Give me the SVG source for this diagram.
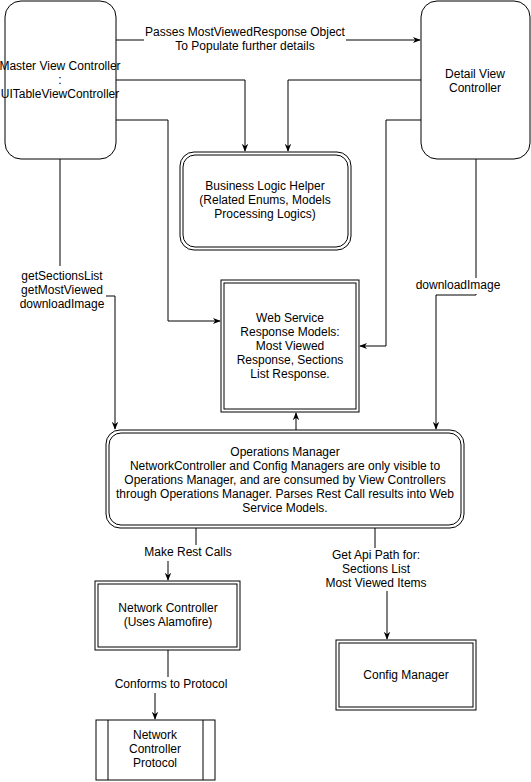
<svg xmlns="http://www.w3.org/2000/svg" width="531" height="782" viewBox="0 0 531 782">
<defs>
<style>
.n{fill:#fff;stroke:#000;stroke-width:1}
.t{font-family:"Liberation Sans",Arial,sans-serif;font-size:12px;fill:#000;text-anchor:middle}
.c{fill:none;stroke:#000;stroke-width:1}
.lb{fill:#fff;stroke:none}
</style>
<marker id="a" viewBox="0 0 10 10" refX="9" refY="5" markerWidth="8" markerHeight="8" markerUnits="userSpaceOnUse" orient="auto">
<path d="M0,1 L10,5 L0,9 L3,5 Z" fill="#000"/>
</marker>
</defs>
<rect width="531" height="782" fill="#fff"/>
<g id="connectors">
<path class="c" d="M116,40 H420" marker-end="url(#a)"/>
<path class="c" d="M116,80 H245 V151" marker-end="url(#a)"/>
<path class="c" d="M421,80 H288 V151" marker-end="url(#a)"/>
<path class="c" d="M116,120 H168 V321 H220" marker-end="url(#a)"/>
<path class="c" d="M421,120 H386 V346 H360" marker-end="url(#a)"/>
<path class="c" d="M60,159 V296 H115 V429" marker-end="url(#a)"/>
<path class="c" d="M476,159 V295 H436 V429" marker-end="url(#a)"/>
<path class="c" d="M296,430 V413" marker-end="url(#a)"/>
<path class="c" d="M196,528 V552 H168 V580" marker-end="url(#a)"/>
<path class="c" d="M168,650 V684 H155 V719" marker-end="url(#a)"/>
<path class="c" d="M375,528 V569 H387 V639" marker-end="url(#a)"/>
<rect class="lb" x="144" y="22" width="202" height="30"/>
<text class="t" x="245" y="36">Passes MostViewedResponse Object</text>
<text class="t" x="245" y="50">To Populate further details</text>
<rect class="lb" x="18" y="266" width="88" height="44"/>
<text class="t" x="62" y="280">getSectionsList</text>
<text class="t" x="62" y="294">getMostViewed</text>
<text class="t" x="62" y="308">downloadImage</text>
<rect class="lb" x="415" y="278" width="86" height="16"/>
<text class="t" x="458" y="289">downloadImage</text>
<rect class="lb" x="144" y="545" width="88" height="16"/>
<text class="t" x="188" y="556">Make Rest Calls</text>
<rect class="lb" x="114" y="677" width="114" height="16"/>
<text class="t" x="171" y="688">Conforms to Protocol</text>
<rect class="lb" x="325" y="548" width="102" height="43"/>
<text class="t" x="376" y="559">Get Api Path for:</text>
<text class="t" x="376" y="573">Sections List</text>
<text class="t" x="376" y="587">Most Viewed Items</text>
</g>
<g id="master">
<rect class="n" x="5" y="1" width="111" height="158" rx="16"/>
<text class="t" x="60" y="70">Master View Controller</text>
<text class="t" x="60" y="84">:</text>
<text class="t" x="60" y="98">UITableViewController</text>
</g>
<g id="detail">
<rect class="n" x="421" y="1" width="109" height="158" rx="16"/>
<text class="t" x="475" y="78">Detail View</text>
<text class="t" x="475" y="92">Controller</text>
</g>
<g id="business">
<rect class="n" x="180" y="152" width="171" height="98" rx="14"/>
<rect class="n" x="183" y="155" width="165" height="92" rx="12"/>
<text class="t" x="265" y="190">Business Logic Helper</text>
<text class="t" x="265" y="204">(Related Enums, Models</text>
<text class="t" x="265" y="218">Processing Logics)</text>
</g>
<g id="webservice">
<rect class="n" x="221" y="280" width="138" height="132"/>
<rect class="n" x="224" y="283" width="132" height="126"/>
<text class="t" x="290" y="322">Web Service</text>
<text class="t" x="290" y="336">Response Models:</text>
<text class="t" x="290" y="350">Most Viewed</text>
<text class="t" x="290" y="364">Response, Sections</text>
<text class="t" x="290" y="378">List Response.</text>
</g>
<g id="operations">
<rect class="n" x="106" y="430" width="358" height="98" rx="14"/>
<rect class="n" x="109" y="433" width="352" height="92" rx="12"/>
<text class="t" x="285" y="456">Operations Manager</text>
<text class="t" x="285" y="470">NetworkController and Config Managers are only visible to</text>
<text class="t" x="285" y="484">Operations Manager, and are consumed by View Controllers</text>
<text class="t" x="285" y="498">through Operations Manager. Parses Rest Call results into Web</text>
<text class="t" x="285" y="512">Service Models.</text>
</g>
<g id="network">
<rect class="n" x="95" y="581" width="145" height="69"/>
<rect class="n" x="98" y="584" width="139" height="63"/>
<text class="t" x="168" y="612">Network Controller</text>
<text class="t" x="168" y="626">(Uses Alamofire)</text>
</g>
<g id="protocol">
<rect class="n" x="96" y="720" width="119" height="60"/>
<path class="c" d="M108,720 V780 M203,720 V780"/>
<text class="t" x="155" y="739">Network</text>
<text class="t" x="155" y="753">Controller</text>
<text class="t" x="155" y="767">Protocol</text>
</g>
<g id="config">
<rect class="n" x="336" y="640" width="140" height="70"/>
<rect class="n" x="339" y="643" width="134" height="64"/>
<text class="t" x="406" y="679">Config Manager</text>
</g>
</svg>
